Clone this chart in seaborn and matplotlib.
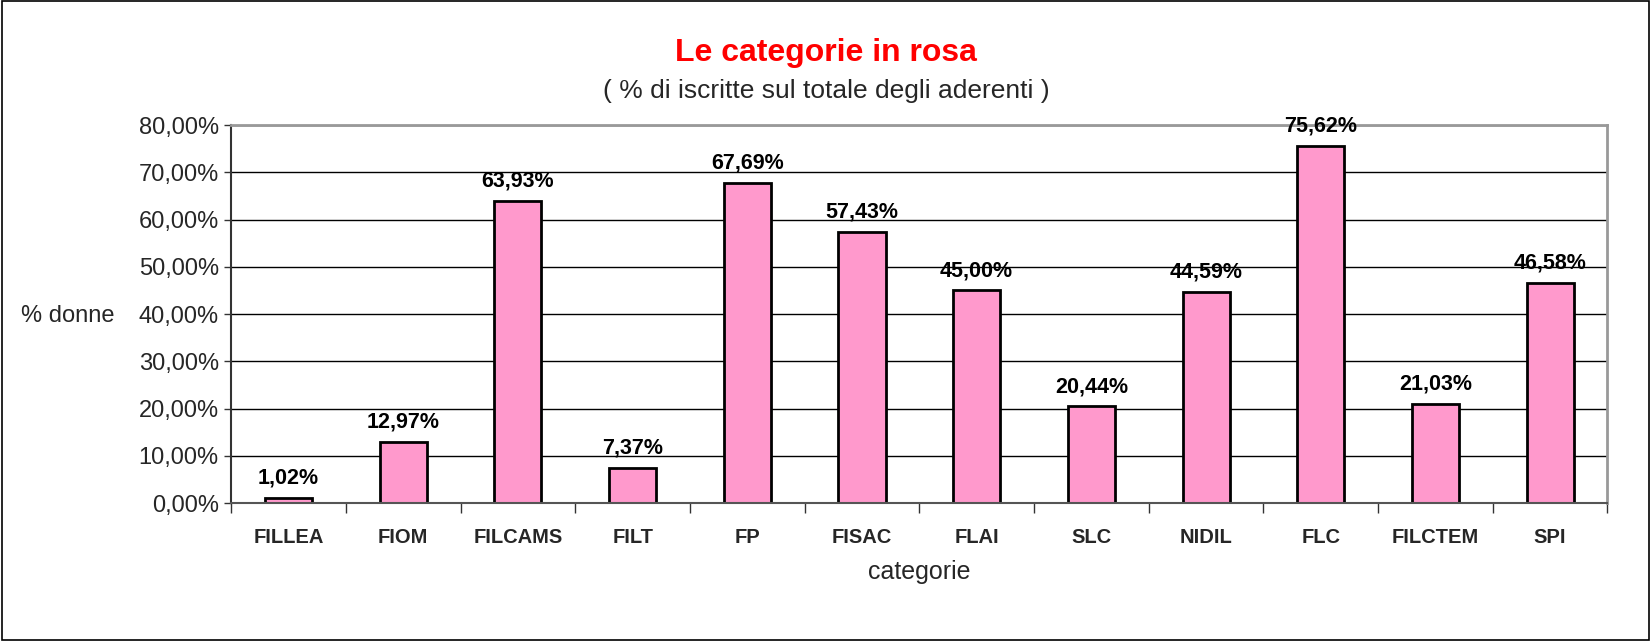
"""
Le categorie in rosa - bar chart of % women per category
"""

import numpy as np
import pandas as pd
import matplotlib
matplotlib.use('Agg')
import matplotlib.pyplot as plt
import matplotlib.ticker as mticker
import seaborn as sns

categories = ['FILLEA', 'FIOM', 'FILCAMS', 'FILT', 'FP', 'FISAC',
              'FLAI', 'SLC', 'NIDIL', 'FLC', 'FILCTEM', 'SPI']
pct_donne = [1.02, 12.97, 63.93, 7.37, 67.69, 57.43,
             45.00, 20.44, 44.59, 75.62, 21.03, 46.58]
y_ticks = [0, 10, 20, 30, 40, 50, 60, 70, 80]

BAR_COLOR = '#FF99CC'

sns.set_theme(style="white")
plt.rcParams['font.family'] = ['Liberation Sans', 'DejaVu Sans']


def it_pct(v, pos=None):
    return f"{v:.2f}%".replace('.', ',')


df = pd.DataFrame({'categoria': categories, 'donne': pct_donne})

fig = plt.figure(figsize=(16.52, 6.42), dpi=100, facecolor='white')
ax = fig.add_axes([0.140, 0.2165, 0.833, 0.5885])

sns.barplot(data=df, x='categoria', y='donne', color=BAR_COLOR,
            edgecolor='black', linewidth=2, width=0.41, saturation=1, ax=ax)

# value labels
for i, v in enumerate(pct_donne):
    ax.text(i, v + 2.0, it_pct(v), ha='center', va='bottom',
            fontsize=15.5, fontweight='bold', color='black')

ax.set_ylim(0, 80)
ax.set_xlim(-0.5, len(categories) - 0.5)
ax.set_yticks(y_ticks)
ax.yaxis.set_major_formatter(mticker.FuncFormatter(it_pct))
ax.tick_params(axis='y', labelsize=17, length=5, width=1, color='#333333',
               direction='out', left=True, pad=4)

# ticks at category boundaries, labels at centres
ax.set_xticks(np.arange(-0.5, len(categories), 1))
ax.set_xticklabels([])
ax.set_xticks(np.arange(len(categories)), minor=True)
ax.set_xticklabels(categories, minor=True, fontsize=14.5, fontweight='bold')
ax.tick_params(axis='x', which='major', length=7, width=1, color='#333333',
               direction='out', bottom=True)
ax.tick_params(axis='x', which='minor', length=0, pad=18)

ax.yaxis.grid(True, color='black', linewidth=1)
ax.set_axisbelow(True)

for side in ['top', 'right']:
    ax.spines[side].set_color('#999999')
    ax.spines[side].set_linewidth(2)
ax.spines['left'].set_color('#333333')
ax.spines['left'].set_linewidth(1.5)
ax.spines['bottom'].set_color('#555555')
ax.spines['bottom'].set_linewidth(1.5)

ax.set_xlabel('categorie', fontsize=18, labelpad=9)
ax.set_ylabel('')
fig.text(68 / 1652, 1 - 316 / 642, '% donne', fontsize=17,
         ha='center', va='center')

fig.text(0.5, 1 - 53 / 642, 'Le categorie in rosa', color='#FF0000',
         fontsize=23, fontweight='bold', ha='center', va='center')
fig.text(0.5, 1 - 91 / 642, '( % di iscritte sul totale degli aderenti )',
         fontsize=19, ha='center', va='center')

# outer frame
fig.patches.append(plt.Rectangle((0.001, 0.003), 0.997, 0.995,
                                 transform=fig.transFigure, fill=False,
                                 edgecolor='black', linewidth=1.2))

fig.savefig('out.png', dpi=100, facecolor='white')
